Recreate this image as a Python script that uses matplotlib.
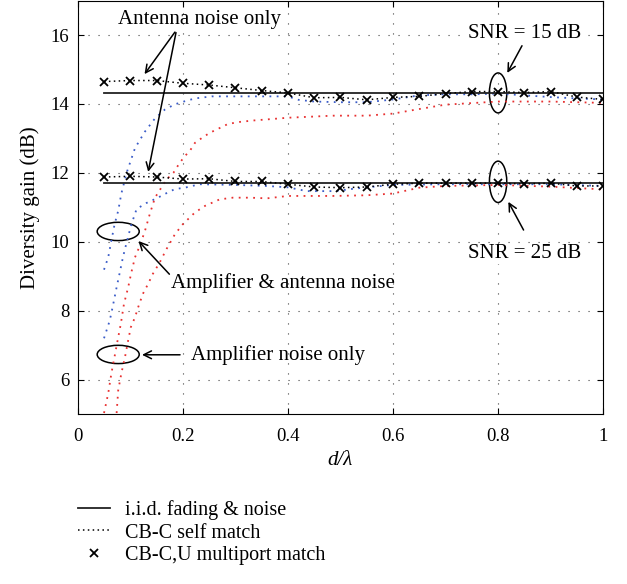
import numpy as np
import matplotlib.pyplot as plt
from matplotlib.patches import Ellipse

plt.rcParams['font.family'] = ['Liberation Serif', 'DejaVu Serif']

# i.i.d. reference levels
iid_x = [0.05, 1.0]
iid_snr15 = 14.32
iid_snr25 = 11.72

# CB-C,U multiport match (antenna noise only)
mp_x = np.round(np.arange(0.05, 1.001, 0.05), 2)
mp_snr15 = [14.65, 14.68, 14.68, 14.6, 14.55, 14.47, 14.39, 14.32, 14.18, 14.19,
            14.12, 14.19, 14.22, 14.3, 14.36, 14.36, 14.33, 14.36, 14.2, 14.13]
mp_snr25 = [11.88, 11.9, 11.88, 11.82, 11.83, 11.75, 11.75, 11.67, 11.59, 11.57,
            11.59, 11.67, 11.7, 11.7, 11.7, 11.7, 11.68, 11.7, 11.62, 11.62]

# CB-C self match, amplifier & antenna noise (blue)
amp_ant_x15 = [0.05, 0.058, 0.064, 0.07, 0.077, 0.083, 0.093, 0.109, 0.128, 0.147, 0.166,
               0.185, 0.204, 0.223, 0.255, 0.3, 0.35, 0.4, 0.42, 0.45, 0.5, 0.55, 0.6,
               0.65, 0.7, 0.75, 0.8, 0.85, 0.9, 0.95, 1.0]
amp_ant_snr15 = [9.19, 9.55, 10.03, 10.5, 10.9, 11.4, 12.0, 12.72, 13.2, 13.58, 13.84,
                 13.99, 14.08, 14.16, 14.22, 14.22, 14.22, 14.22, 14.12, 14.07, 14.05, 14.05, 14.13,
                 14.25, 14.28, 14.28, 14.3, 14.25, 14.2, 14.16, 14.13]
amp_ant_x25 = [0.05, 0.061, 0.067, 0.074, 0.08, 0.086, 0.093, 0.102, 0.112, 0.13, 0.15, 0.17,
               0.185, 0.204, 0.232, 0.3, 0.36, 0.4, 0.436, 0.49, 0.52, 0.55, 0.6, 0.7, 0.8,
               0.9, 1.0]
amp_ant_snr25 = [7.2, 7.72, 8.15, 8.68, 9.11, 9.55, 9.98, 10.5, 10.95, 11.12, 11.26, 11.42,
                 11.53, 11.57, 11.67, 11.65, 11.62, 11.58, 11.47, 11.47, 11.53, 11.58, 11.65, 11.67, 11.67,
                 11.67, 11.62]

# CB-C self match, amplifier noise only (red)
amp_x15 = [0.05, 0.058, 0.064, 0.07, 0.077, 0.082, 0.088, 0.096, 0.102, 0.109, 0.118, 0.128,
           0.137, 0.147, 0.159, 0.169, 0.182, 0.194, 0.204, 0.213, 0.223, 0.236, 0.251, 0.27,
           0.286, 0.309, 0.334, 0.359, 0.4, 0.486, 0.55, 0.6, 0.645, 0.7, 0.8, 0.9, 1.0]
amp_snr15 = [5.03, 5.6, 6.18, 6.66, 7.23, 7.62, 8.2, 8.68, 9.11, 9.55, 9.88, 10.32,
             10.8, 11.28, 11.57, 11.81, 12.0, 12.29, 12.49, 12.63, 12.87, 13.01, 13.16, 13.3,
             13.42, 13.48, 13.52, 13.55, 13.6, 13.66, 13.66, 13.72, 13.84, 13.98, 14.07, 14.07, 14.03]
amp_x25 = [0.074, 0.077, 0.083, 0.09, 0.096, 0.101, 0.109, 0.115, 0.124, 0.134, 0.143, 0.156,
           0.169, 0.185, 0.2, 0.223, 0.242, 0.27, 0.295, 0.328, 0.36, 0.4, 0.486, 0.55, 0.6,
           0.65, 0.7, 0.8, 0.9, 1.0]
amp_snr25 = [5.03, 5.69, 6.18, 6.66, 7.14, 7.52, 7.81, 8.1, 8.49, 8.78, 9.07, 9.4,
             9.79, 10.22, 10.51, 10.85, 11.04, 11.23, 11.28, 11.28, 11.26, 11.33, 11.33, 11.35, 11.4,
             11.57, 11.62, 11.65, 11.6, 11.52]

fig = plt.figure(figsize=(6.27, 5.84), dpi=100)
ax = fig.add_axes([0.124, 0.291, 0.838, 0.708])

blue = '#3a5cc8'
red = '#e83030'
sparse = (0, (1, 3))
ax.plot(amp_ant_x15, amp_ant_snr15, ls=sparse, color=blue, lw=1.3)
ax.plot(amp_ant_x25, amp_ant_snr25, ls=sparse, color=blue, lw=1.3)
ax.plot(amp_x15, amp_snr15, ls=sparse, color=red, lw=1.3)
ax.plot(amp_x25, amp_snr25, ls=sparse, color=red, lw=1.3)

ax.plot(iid_x, [iid_snr15] * 2, '-', color='#222222', lw=1.3, label='i.i.d. fading & noise')
ax.plot(iid_x, [iid_snr25] * 2, '-', color='#222222', lw=1.3)
ax.plot(mp_x, mp_snr15, ls=(0, (1, 2.2)), color='black', lw=1.1, label='CB-C self match')
ax.plot(mp_x, mp_snr25, ls=(0, (1, 2.2)), color='black', lw=1.1)
ax.plot(mp_x, mp_snr15, 'x', color='black', ms=6, mew=1.3, ls='none',
        label='CB-C,U multiport match')
ax.plot(mp_x, mp_snr25, 'x', color='black', ms=6, mew=1.3, ls='none')

ax.set_xlim(0, 1)
ax.set_ylim(5, 17)
ax.set_xticks([0, 0.2, 0.4, 0.6, 0.8, 1])
ax.set_xticklabels(['0', '0.2', '0.4', '0.6', '0.8', '1'])
ax.set_yticks([6, 8, 10, 12, 14, 16])
ax.grid(True, color='#444444', linestyle=(0, (1, 8)), lw=0.8)
ax.tick_params(direction='in', labelsize=13.5, length=4, top=True, right=True)
ax.tick_params(axis='x', pad=10)
ax.tick_params(axis='y', pad=6)
ax.set_xlabel('d/λ', style='italic', fontsize=15, labelpad=4)
ax.set_ylabel('Diversity gain (dB)', fontsize=15, labelpad=8)

# annotations
fs = 15
arr = dict(arrowstyle='->', lw=1.1, color='black', mutation_scale=14)
ax.text(0.232, 16.45, 'Antenna noise only', fontsize=fs, ha='center', va='center')
ax.annotate('', xy=(0.124, 14.8), xytext=(0.188, 16.15), arrowprops=arr)
ax.annotate('', xy=(0.133, 11.95), xytext=(0.188, 16.15), arrowprops=arr)

ax.add_patch(Ellipse((0.077, 10.3), 0.08, 0.53, fill=False, lw=1.1, color='black'))
ax.annotate('', xy=(0.112, 10.08), xytext=(0.178, 9.0), arrowprops=arr)
ax.text(0.178, 8.8, 'Amplifier & antenna noise', fontsize=fs, ha='left', va='center')

ax.add_patch(Ellipse((0.077, 6.73), 0.08, 0.53, fill=False, lw=1.1, color='black'))
ax.annotate('', xy=(0.117, 6.72), xytext=(0.2, 6.72), arrowprops=arr)
ax.text(0.216, 6.72, 'Amplifier noise only', fontsize=fs, ha='left', va='center')

ax.add_patch(Ellipse((0.8, 14.32), 0.033, 1.16, fill=False, lw=1.1, color='black'))
ax.annotate('', xy=(0.815, 14.83), xytext=(0.848, 15.76), arrowprops=arr)
ax.text(0.85, 16.05, 'SNR = 15 dB', fontsize=fs, ha='center', va='center',
        bbox=dict(facecolor='white', edgecolor='none', pad=0.5))

ax.add_patch(Ellipse((0.8, 11.74), 0.033, 1.2, fill=False, lw=1.1, color='black'))
ax.annotate('', xy=(0.817, 11.23), xytext=(0.851, 10.27), arrowprops=arr)
ax.text(0.85, 9.65, 'SNR = 25 dB', fontsize=fs, ha='center', va='center',
        bbox=dict(facecolor='white', edgecolor='none', pad=0.5))

fig.legend(loc='upper left', bbox_to_anchor=(0.124, 0.143), frameon=False,
           fontsize=14.5, handlelength=1.6, labelspacing=0.15, numpoints=1,
           borderaxespad=0, borderpad=0, handletextpad=0.75)

fig.savefig('out.png', dpi=100)
